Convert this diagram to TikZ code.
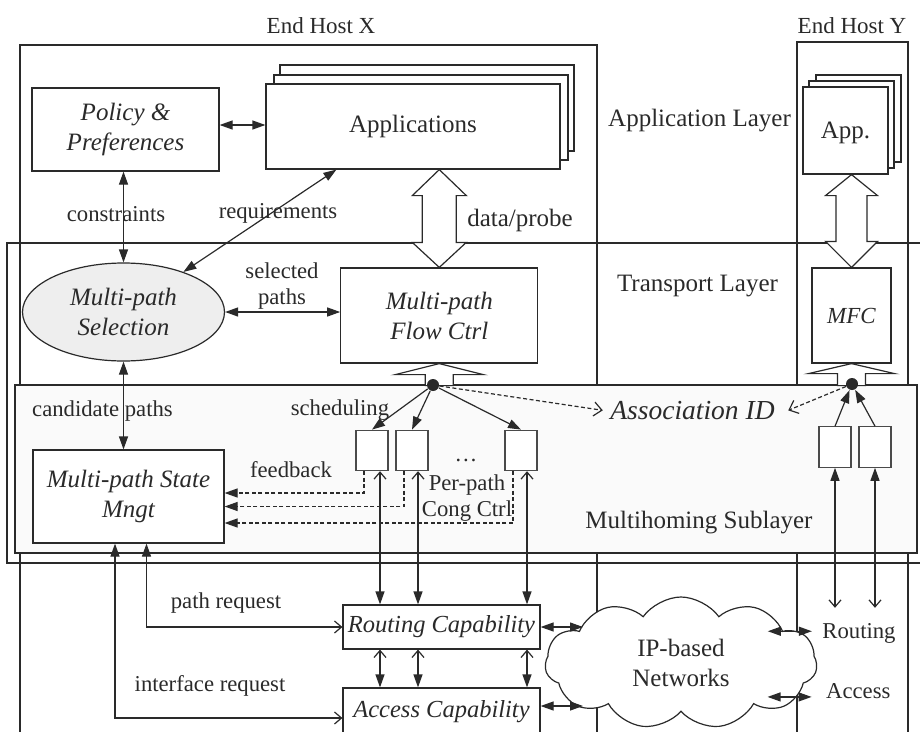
\documentclass[tikz,border=0pt]{standalone}
\usepackage{fontspec}
\setmainfont{Liberation Serif}
\usetikzlibrary{arrows.meta,shapes.geometric,shapes.symbols,calc}
\definecolor{lc}{HTML}{2A2A2A}
\definecolor{selfill}{HTML}{EEEEEE}
\definecolor{mhfill}{HTML}{FAFAFA}
\tikzset{
  fillhead/.tip={Triangle[length=13pt,width=9pt]},
  openhead/.tip={Straight Barb[length=7pt,width=12pt]},
  dashhead/.tip={Straight Barb[length=8pt,width=14pt]},
  blk/.style={draw, fill=white, inner sep=2pt, align=center, font=\fontsize{25}{30}\selectfont\itshape},
  lbl/.style={inner sep=0pt, align=center, font=\fontsize{22.7}{26.5}\selectfont},
  lyr/.style={inner sep=0pt, font=\fontsize{25}{30}\selectfont},
  ccbox/.style={draw=lc!85, fill=white, minimum width=32pt, minimum height=40.5pt, inner sep=0pt, line width=1.1pt},
  hollowarrow/.style={draw, fill=white, line join=miter},
  hubdot/.style={circle, fill=lc, inner sep=0pt, minimum size=12pt},
  dashline/.style={dash pattern=on 4pt off 2.5pt},
}
\begin{document}
\begin{tikzpicture}[x=1pt,y=-1pt,line width=1.2pt,color=lc]
\useasboundingbox (0,0) rectangle (920,731);
\clip (0,0) rectangle (920,731);

% layer band, hosts, multihoming sublayer
\draw (7,243) rectangle (930,563);
\draw (20,745) -- (20,45) -- (597,45) -- (597,745);
\draw (797,745) -- (797,42) -- (908,42) -- (908,745);
\draw[fill=mhfill] (15,385) rectangle (917,553);

% cloud
\node[cloud, draw, fill=white, cloud puffs=11, cloud puff arc=110, aspect=2.06,
      minimum width=272pt, minimum height=132pt, inner sep=0pt, align=center,
      font=\fontsize{25}{30}\selectfont] (cl) at (681,663) {IP-based\\Networks};

% layer / host labels
\node[lyr, anchor=base] (la) at (699.5,126) {Application Layer};
\node[lyr, anchor=base] (lt) at (697.5,291) {Transport Layer};
\node[lyr, anchor=base] (lm) at (699,528.3) {Multihoming Sublayer};
\node[lbl, font=\fontsize{23}{27}\selectfont, anchor=base] (hx) at (321,33) {End Host X};
\node[lbl, font=\fontsize{23}{27}\selectfont, anchor=base] (hy) at (852,33) {End Host Y};

% application layer
\node[blk, minimum width=187pt, minimum height=83pt] (pol) at (125.5,129.5) {Policy \&\\Preferences};
\draw[fill=white] (280,65) rectangle (574,151);
\draw[fill=white] (274,75) rectangle (568,160);
\node[blk, font=\fontsize{25}{30}\selectfont, minimum width=294pt, minimum height=85pt] (app) at (413,126.5) {Applications};
\draw[fill=white] (816,75) rectangle (901,162);
\draw[fill=white] (809,81) rectangle (894,168);
\node[blk, font=\fontsize{25}{30}\selectfont, minimum width=85pt, minimum height=87pt, text depth=1pt] (appy) at (845.5,130.5) {App.};

% transport layer
\node[ellipse, draw, fill=selfill, minimum width=202pt, minimum height=98pt, inner sep=0pt,
      align=center, font=\fontsize{25}{30}\selectfont\itshape] (sel) at (123.5,312) {Multi-path\\Selection};
\node[blk, minimum width=197pt, minimum height=95pt] (fc) at (439.3,315.5) {Multi-path\\Flow Ctrl};
\node[blk, minimum width=79pt, minimum height=95pt, font=\fontsize{23}{27}\selectfont\itshape] (mfc) at (851.5,315.5) {MFC};

% hollow arrows
\coordinate (dpT) at (fc.north |- app.south);
\draw[hollowarrow] (dpT) -- ([shift={(27,26)}]dpT) -- ([shift={(17,26)}]dpT) -- ([shift={(17,-25)}]fc.north)
  -- ([shift={(27,-25)}]fc.north) -- (fc.north) -- ([shift={(-27,-25)}]fc.north) -- ([shift={(-17,-25)}]fc.north)
  -- ([shift={(-17,26)}]dpT) -- ([shift={(-27,26)}]dpT) -- cycle;
\coordinate (hyT) at (mfc.north |- appy.south);
\draw[hollowarrow] (hyT) -- ([shift={(26,21)}]hyT) -- ([shift={(15.5,21)}]hyT) -- ([shift={(15.5,-26)}]mfc.north)
  -- ([shift={(26,-26)}]mfc.north) -- (mfc.north) -- ([shift={(-26,-26)}]mfc.north) -- ([shift={(-15.5,-26)}]mfc.north)
  -- ([shift={(-15.5,21)}]hyT) -- ([shift={(-26,21)}]hyT) -- cycle;
\draw[hollowarrow] (fc.south) -- +(44,11) -- +(14,11) -- +(14,22) -- +(-14,22) -- +(-14,11) -- +(-44,11) -- cycle;
\draw[hollowarrow] (mfc.south) -- +(43,10) -- +(14,10) -- +(14,22) -- +(-14,22) -- +(-14,10) -- +(-43,10) -- cycle;

% multihoming sublayer
\node[blk, minimum width=191pt, minimum height=93pt] (mng) at (128.5,496.5) {Multi-path State\\Mngt};
\node[ccbox] (c1) at (372,450.4) {};
\node[ccbox] (c2) at (412,450.4) {};
\node[ccbox] (c3) at (521,450.4) {};
\node[ccbox] (y1) at (835,447) {};
\node[ccbox] (y2) at (875,447) {};
\node[hubdot] (hub) at (433,385) {};
\node[hubdot] (huby) at (852,384) {};
\node[inner xsep=7pt, inner ysep=0pt, anchor=base, font=\fontsize{27.5}{32}\selectfont\itshape] (assoc) at (692.5,419.3) {Association ID};

% bottom boxes
\node[blk, minimum width=197pt, minimum height=44pt, font=\fontsize{24.5}{29}\selectfont\itshape] (rc) at (441.5,627) {Routing Capability};
\node[blk, minimum width=197pt, minimum height=48pt, font=\fontsize{24.5}{29}\selectfont\itshape] (ac) at (441.5,712) {Access Capability};

% labels
\node[lbl, anchor=base] (lcon) at (116,221.7) {constraints};
\node[lbl, anchor=base] (lreq) at (278,218) {requirements};
\node[lyr, anchor=base] (ldp) at (520,226.7) {data/probe};
\node[lbl] (lsel) at (282,286) {selected\\paths};
\node[lbl, anchor=base] (lcand) at (102.5,416) {candidate paths};
\node[lbl, anchor=base] (lsch) at (340,415) {scheduling};
\node[lbl, anchor=base] (lfb) at (291,477.7) {feedback};
\node[lbl, anchor=base] (ldots) at (466,461) {\dots};
\node[lbl] (lpp) at (467,498) {Per-path\\Cong Ctrl};
\node[lbl, anchor=base] (lpr) at (226,608.3) {path request};
\node[lbl, anchor=base] (lir) at (210,691.7) {interface request};
\node[lbl, anchor=base] (lrt) at (859,638.3) {Routing};
\node[lbl, anchor=base] (lac) at (858.3,698.3) {Access};

% connectors: application / transport
\draw[fillhead-fillhead] ([yshift=4.5pt]pol.east) -- ([yshift=4.5pt]pol.east -| app.west);
\draw[fillhead-fillhead] (sel.north |- pol.south) -- (sel.north);
\draw[fillhead-fillhead] (sel) -- ([xshift=71pt]app.south west);
\draw[fillhead-fillhead] (sel.east) -- (sel.east -| fc.west);
\draw[fillhead-fillhead] (sel.south) -- (sel.south |- mng.north);

% scheduling and association
\draw[-fillhead] (hub) -- (c1.north);
\draw[-fillhead] (hub) -- (c2.north);
\draw[-fillhead] (hub) -- (c3.north);
\draw[dashline, -dashhead] (hub) -- (assoc.west);
\draw[dashline, -dashhead] (huby) -- ([xshift=6pt]assoc.east);
\draw[-fillhead] (y1.north) -- (huby);
\draw[-fillhead] (y2.north) -- (huby);

% feedback
\draw[dashline, -fillhead] ([xshift=-8pt]c1.south) |- ([yshift=3.5pt]mng.east);
\draw[dashline, -fillhead] ([xshift=-8pt]c2.south) |- ([yshift=-10pt]mng.east);
\draw[dashline, -fillhead] ([xshift=-8pt]c3.south) |- ([yshift=-26.5pt]mng.east);

% per-path to routing / access
\coordinate (v1) at ([xshift=8pt]c1.south);
\coordinate (v2) at ([xshift=6pt]c2.south);
\coordinate (v3) at ([xshift=6pt]c3.south);
\foreach \v in {v1,v2,v3} {
  \draw[openhead-fillhead] (\v) -- (\v |- rc.north);
  \draw[openhead-fillhead] (\v |- rc.south) -- (\v |- ac.north);
}

% requests
\coordinate (pr) at ([xshift=18pt]mng.south);
\draw[fillhead-openhead] (pr) |- (rc.west);
\coordinate (ir) at ([xshift=-13.5pt]mng.south);
\draw[fillhead-openhead] (ir) |- ([yshift=-6pt]ac.west);

% cloud links
\coordinate (cr1) at (583,627);
\draw[fillhead-fillhead] (rc.east) -- (cr1);
\coordinate (ca1) at (583,706);
\draw[fillhead-fillhead] ([yshift=6pt]ac.east) -- (ca1);
\draw[fillhead-fillhead] ([xshift=-10pt,yshift=2pt]lrt.west) -- +(-44,0);
\draw[fillhead-fillhead] ([xshift=-14pt,yshift=-6pt]lac.west) -- +(-44,0);

% host Y vertical links
\draw[fillhead-openhead] (y1.south) -- +(0,140);
\draw[fillhead-openhead] (y2.south) -- +(0,140);
\end{tikzpicture}
\end{document}
